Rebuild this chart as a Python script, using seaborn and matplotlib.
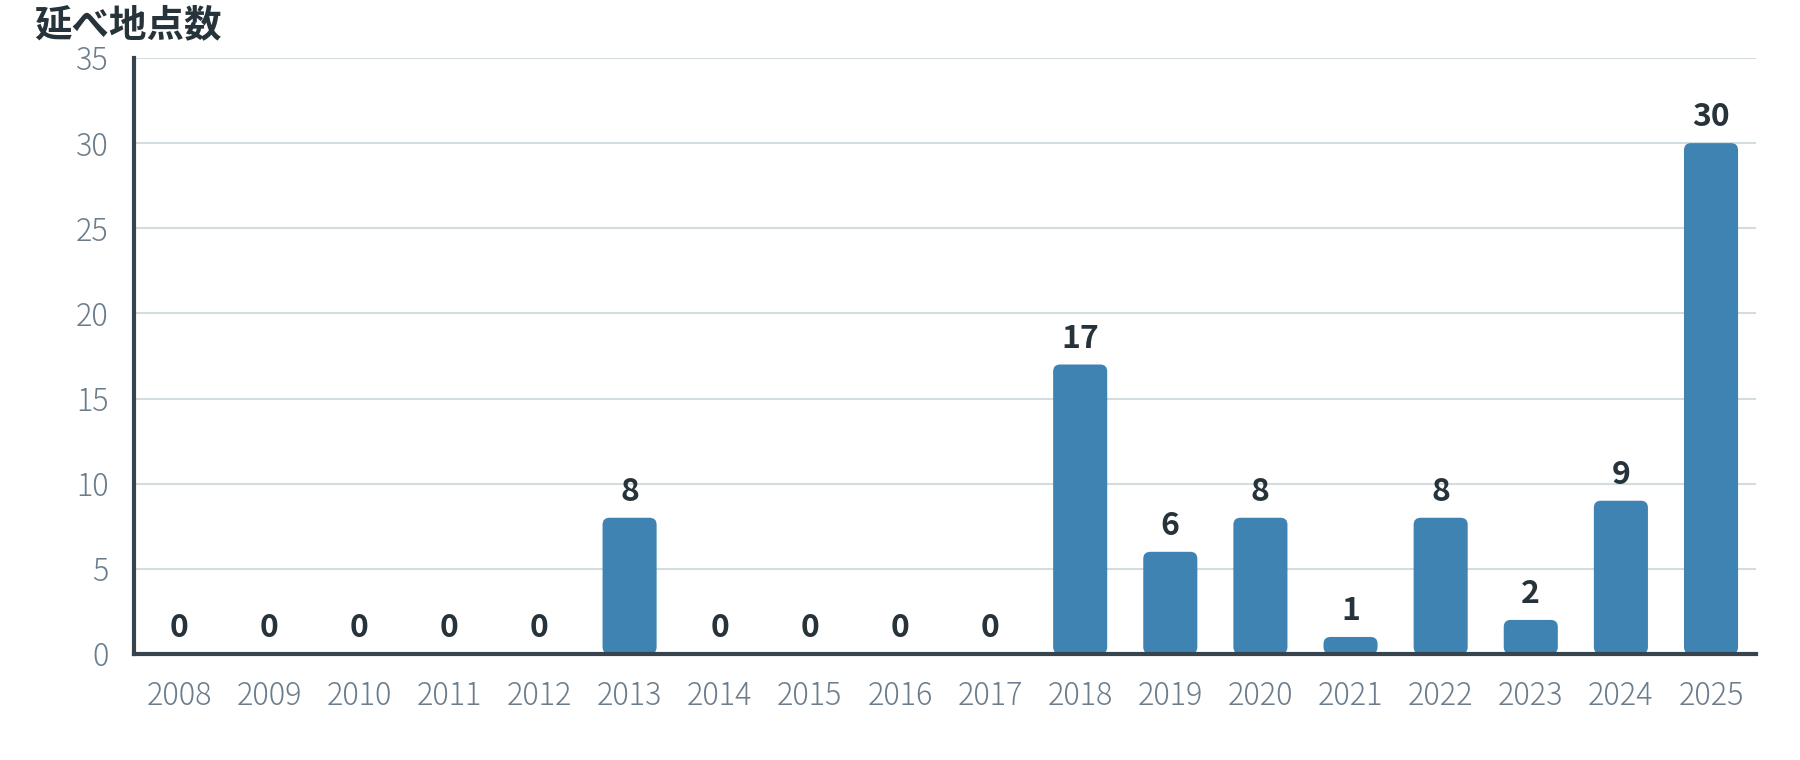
import matplotlib
matplotlib.use("Agg")
import matplotlib.pyplot as plt
from matplotlib.patches import FancyBboxPatch
import seaborn as sns
import pandas as pd

# ===============================
# Data
# ===============================
years = ["2008", "2009", "2010", "2011", "2012", "2013", "2014", "2015", "2016",
         "2017", "2018", "2019", "2020", "2021", "2022", "2023", "2024", "2025"]
counts = [0, 0, 0, 0, 0, 8, 0, 0, 0, 0, 17, 6, 8, 1, 8, 2, 9, 30]
y_ticks = [0, 5, 10, 15, 20, 25, 30, 35]
title = "延べ地点数"

bar_color = "#3e83b2"
label_color = "#27333b"
tick_color = "#6b7d8c"
grid_color = "#d3dce1"
axis_color = "#37444d"

df = pd.DataFrame({"year": years, "count": counts})

# ===============================
# Style
# ===============================
sns.set_theme(style="white")
plt.rcParams['font.family'] = ['Noto Sans CJK JP', 'DejaVu Sans']

fig = plt.figure(figsize=(18, 7.6), dpi=100)
ax = fig.add_axes([0.0744, 0.1395, 0.9012, 0.7842])

sns.barplot(data=df, x="year", y="count", color=bar_color, width=0.6,
            saturation=1, ax=ax, zorder=3)

# rounded bars
px_x = 0.9012 * 1800 / len(years)
px_y = 0.7842 * 760 / 35
r = 7.0 / px_x
aspect = (7.0 / px_y) / r
for p in list(ax.patches):
    x0, y0 = p.get_x(), p.get_y()
    w, h = p.get_width(), p.get_height()
    p.remove()
    if h <= 0:
        continue
    rs = min(r, h / aspect / 2)
    ax.add_patch(FancyBboxPatch((x0, y0), w, h,
                                boxstyle=f"round,pad=0,rounding_size={rs}",
                                mutation_aspect=aspect, facecolor=bar_color,
                                edgecolor="none", zorder=3))

for i, v in enumerate(counts):
    ax.annotate(str(v), (i, v), xytext=(0, 7), textcoords="offset points",
                ha="center", va="bottom", fontsize=23, fontweight="bold",
                color=label_color, zorder=4)

ax.set_ylim(0, 35)
ax.set_xlim(-0.5, len(years) - 0.5)
ax.set_yticks(y_ticks)
ax.set_xlabel("")
ax.set_ylabel("")
ax.yaxis.grid(True, color=grid_color, linewidth=1.5, zorder=0)
ax.set_axisbelow(True)

for s in ["top", "right"]:
    ax.spines[s].set_visible(False)
for s in ["left", "bottom"]:
    ax.spines[s].set_color(axis_color)
    ax.spines[s].set_linewidth(3)
    ax.spines[s].set_zorder(5)

ax.tick_params(axis="y", length=0, pad=18, labelsize=22, labelcolor=tick_color)
ax.tick_params(axis="x", length=0, pad=19, labelsize=22, labelcolor=tick_color)
for lab in ax.get_xticklabels() + ax.get_yticklabels():
    lab.set_fontweight("light")

fig.text(0.019, 0.968, title, ha="left", va="center", fontsize=27,
         fontweight="bold", color=label_color)

fig.savefig("out.png", dpi=100)
